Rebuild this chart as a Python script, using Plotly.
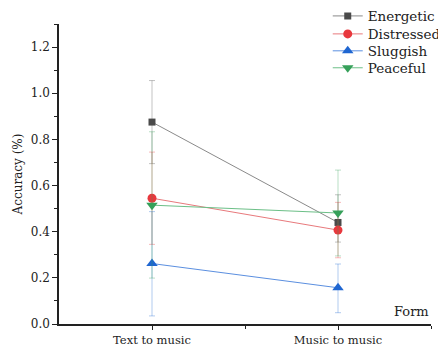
import plotly.graph_objects as go

categories = ["Text to music", "Music to music"]
series_names = ["Energetic", "Distressed", "Sluggish", "Peaceful"]
energetic = [0.875, 0.44]
distressed = [0.545, 0.407]
sluggish = [0.262, 0.157]
peaceful = [0.515, 0.481]
energetic_err_up = [0.18, 0.12]
energetic_err_down = [0.18, 0.085]
distressed_err = [0.2, 0.12]
sluggish_err_up = [0.225, 0.103]
sluggish_err_down = [0.227, 0.108]
peaceful_err_up = [0.318, 0.186]
peaceful_err_down = [0.316, 0.186]
y_tick_vals = [0.0, 0.2, 0.4, 0.6, 0.8, 1.0, 1.2]
y_tick_text = ["0.0", "0.2", "0.4", "0.6", "0.8", "1.0", "1.2"]

FONT = "DejaVu Serif, Liberation Serif, serif"
xpos = list(range(len(categories)))

specs = [
    (series_names[0], energetic, energetic_err_up, energetic_err_down,
     "#4a4a4a", "#8a8a8a", "rgba(120,120,120,0.45)", "square", 7),
    (series_names[1], distressed, distressed_err, distressed_err,
     "#e8383d", "#e8797c", "rgba(232,56,61,0.35)", "circle", 9),
    (series_names[2], sluggish, sluggish_err_up, sluggish_err_down,
     "#1f66d1", "#5b8fe0", "rgba(31,102,209,0.35)", "triangle-up", 10),
    (series_names[3], peaceful, peaceful_err_up, peaceful_err_down,
     "#36a05a", "#6cbf87", "rgba(54,160,90,0.35)", "triangle-down", 10),
]

legend_ids = ["legend", "legend2", "legend3", "legend4"]
legend_y = [0.976, 0.923, 0.873, 0.823]

fig = go.Figure()
for (name, vals, eu, ed, mcol, lcol, ecol, sym, size), lid in zip(specs, legend_ids):
    fig.add_trace(go.Scatter(
        x=xpos, y=vals, name=name, mode="lines+markers",
        line=dict(color=lcol, width=1),
        marker=dict(symbol=sym, size=size, color=mcol),
        error_y=dict(type="data", symmetric=False, array=eu, arrayminus=ed,
                     color=ecol, thickness=1, width=3),
        legend=lid,
    ))

fig.add_annotation(text="Form", x=1.0, xref="paper", xanchor="right",
                   y=0.01, yref="paper", yanchor="bottom", showarrow=False,
                   font=dict(family=FONT, size=13, color="#222"))

legend_common = dict(xref="container", yref="container", x=0.73, xanchor="left",
                     yanchor="middle", bgcolor="rgba(0,0,0,0)",
                     font=dict(family=FONT, size=13.5, color="#222"),
                     itemwidth=30)
layout_legends = {lid: dict(legend_common, y=ly) for lid, ly in zip(legend_ids, legend_y)}

fig.update_layout(
    width=438, height=339,
    margin=dict(l=51, r=15, t=16, b=23, autoexpand=False),
    paper_bgcolor="white", plot_bgcolor="white",
    font=dict(family=FONT, size=12, color="#222"),
    showlegend=True,
    xaxis=dict(range=[-0.5, 1.5], tickvals=xpos, ticktext=categories,
               showline=True, linecolor="#222", linewidth=1.5, mirror=False,
               ticks="outside", ticklen=4, tickcolor="#222", showgrid=False,
               zeroline=False, automargin=False,
               minor=dict(tickvals=[0.5, 1.5], ticks="outside", ticklen=3, tickcolor="#222"),
               tickfont=dict(family=FONT, size=11.5)),
    yaxis=dict(range=[0, 1.3], tickvals=y_tick_vals, ticktext=y_tick_text,
               showline=True, linecolor="#222", linewidth=1.5,
               ticks="outside", ticklen=5, tickcolor="#222", showgrid=False,
               zeroline=False, automargin=False,
               minor=dict(dtick=0.1, ticks="outside", ticklen=3, tickcolor="#222"),
               title=dict(text="Accuracy (%)", standoff=6, font=dict(family=FONT, size=12)),
               tickfont=dict(family=FONT, size=12)),
    **layout_legends,
)

fig.write_html("out.html")
